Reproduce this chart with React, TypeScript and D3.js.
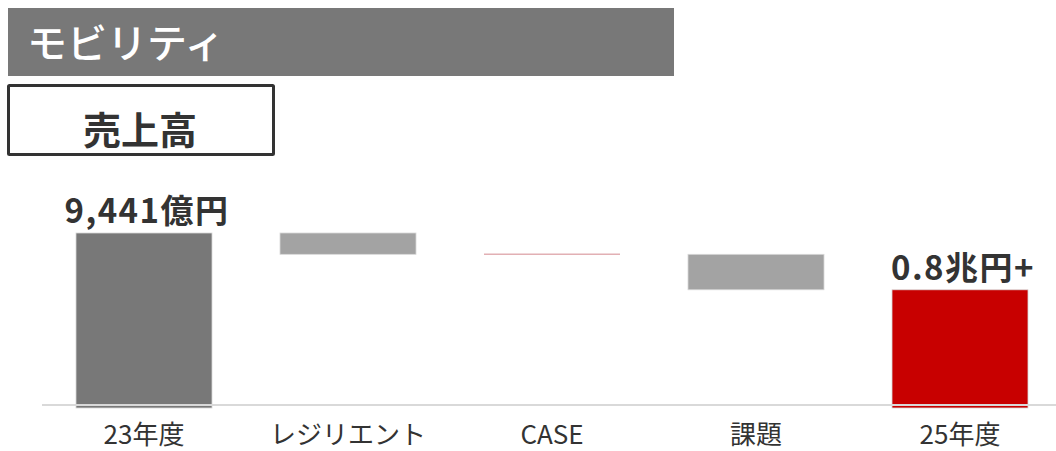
import React from "react";
import * as d3 from "d3";

const categories: string[] = ["23年度", "レジリエント", "CASE", "課題", "25年度"];
const deltas: number[] = [9441, -541, 0, -900, 8000];
const kinds: string[] = ["total", "delta", "delta", "delta", "total"];
const valueLabels: string[] = ["9,441億円", "", "", "", "0.8兆円+"];
const titleText = "モビリティ";
const subtitleText = "売上高";

const W = 1056;
const H = 451;
const FONT = "'Noto Sans CJK JP', 'Noto Sans', sans-serif";

export default function App() {
  const x = d3
    .scaleBand<string>()
    .domain(categories)
    .range([42, 1062])
    .paddingInner(1 / 3)
    .paddingOuter(1 / 6);
  const y = d3.scaleLinear().domain([5000, 9441]).range([408, 233]);

  let running = 0;
  const bars = categories.map((c, i) => {
    let y0: number, y1: number;
    if (kinds[i] === "total") {
      y0 = 5000;
      y1 = deltas[i];
      running = deltas[i];
    } else {
      y0 = running;
      y1 = running + deltas[i];
      running = y1;
    }
    return { c, i, lo: Math.min(y0, y1), hi: Math.max(y0, y1) };
  });

  const colors = ["#787878", "#a3a3a3", "#a3a3a3", "#a3a3a3", "#c80000"];

  return (
    <svg
      width={W}
      height={H}
      style={{ position: "absolute", left: 0, top: 0, background: "#fff" }}
      fontFamily={FONT}
    >
      <rect x={8} y={8} width={666} height={68} fill="#787878" />
      <text x={27} y={58} fill="#fff" fontSize={40} fontWeight={500}>
        {titleText}
      </text>
      <rect x={8.5} y={85.5} width={265} height={69} fill="#fff" stroke="#333" strokeWidth={3} rx={1} />
      <text x={140} y={144} fill="#333" fontSize={38} fontWeight={700} textAnchor="middle">
        {subtitleText}
      </text>

      {bars.map((b) => {
        const bx = x(b.c)!;
        const bw = x.bandwidth();
        if (b.hi === b.lo) {
          return (
            <line
              key={b.c}
              x1={bx}
              x2={bx + bw}
              y1={y(b.hi)}
              y2={y(b.hi)}
              stroke="#e2b0b4"
              strokeWidth={1.5}
            />
          );
        }
        return (
          <rect
            key={b.c}
            x={bx}
            y={y(b.hi)}
            width={bw}
            height={y(b.lo) - y(b.hi)}
            fill={colors[b.i]}
            stroke="#d8d8d8"
            strokeWidth={0.8}
          />
        );
      })}

      <line x1={42} x2={1056} y1={405} y2={405} stroke="#d9d9d9" strokeWidth={2} />

      {bars.map((b) =>
        valueLabels[b.i] ? (
          <text
            key={"v" + b.c}
            x={x(b.c)! + x.bandwidth() / 2 + 3}
            y={y(b.hi) - 10}
            textAnchor="middle"
            fill="#333"
            fontSize={33}
            fontWeight={700}
            letterSpacing={1.5}
          >
            {valueLabels[b.i]}
          </text>
        ) : null
      )}

      {categories.map((c) => (
        <text
          key={"c" + c}
          x={x(c)! + x.bandwidth() / 2}
          y={444}
          textAnchor="middle"
          fill="#333"
          fontSize={26}
        >
          {c}
        </text>
      ))}
    </svg>
  );
}
